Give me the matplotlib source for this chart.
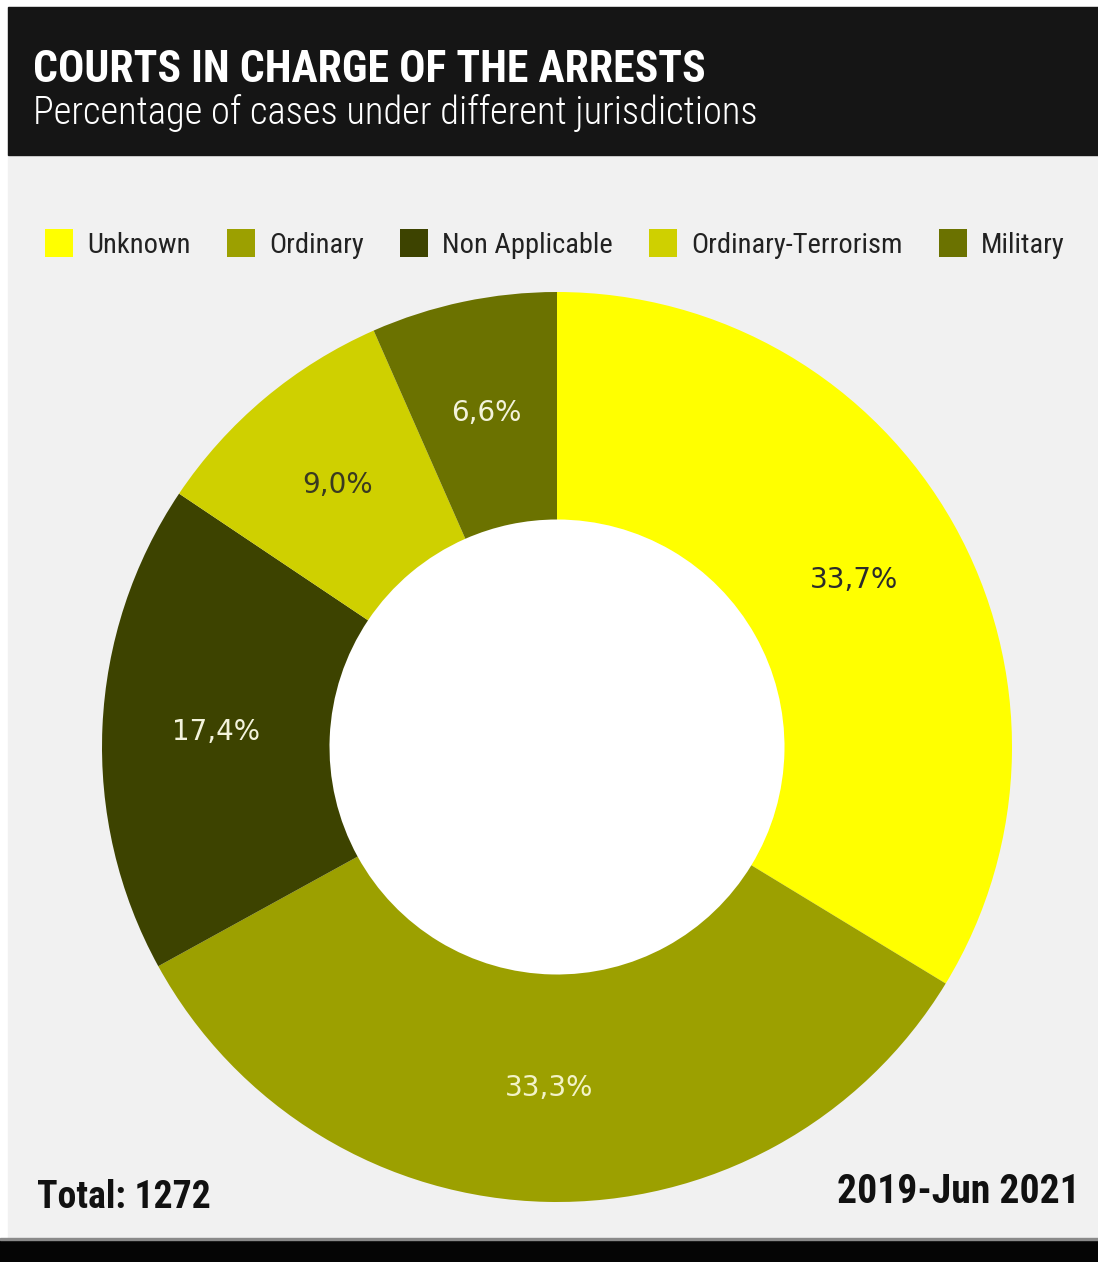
import matplotlib
matplotlib.use("Agg")
import matplotlib.pyplot as plt
from matplotlib import font_manager
from matplotlib.patches import Rectangle, Circle

# === Data ===
categories = ["Unknown", "Ordinary", "Non Applicable", "Ordinary-Terrorism", "Military"]
shares = [33.7, 33.3, 17.4, 9.0, 6.6]
colors = ["#ffff00", "#9ca000", "#3d4300", "#cfd000", "#6b7200"]
label_colors = ["#2b2b2b", "#f3f3c8", "#f3f3dc", "#3a3a20", "#f3f3dc"]

title = "COURTS IN CHARGE OF THE ARRESTS"
subtitle = "Percentage of cases under different jurisdictions"
total_text = "Total: 1272"
period_text = "2019-Jun 2021"

W, H = 1098, 1262
BG = "#f1f1f1"


def pick_font(names):
    for n in names:
        try:
            font_manager.findfont(font_manager.FontProperties(family=n), fallback_to_default=False)
            return n
        except Exception:
            continue
    return "DejaVu Sans"


narrow = pick_font(["Liberation Sans Narrow", "Roboto Condensed", "Open Sans Condensed", "Liberation Sans"])

fig = plt.figure(figsize=(W / 100, H / 100), dpi=100)
fig.patch.set_facecolor("white")

# page background and bands
fig.patches.append(Rectangle((8 / W, 0), 1 - 8 / W, 1 - 7 / H, transform=fig.transFigure,
                             color=BG, zorder=-10))
fig.patches.append(Rectangle((8 / W, 1 - 155 / H), 1 - 8 / W, 148 / H, transform=fig.transFigure,
                             color="#151515", zorder=-5))
fig.patches.append(Rectangle((0, 0), 1, 22 / H, transform=fig.transFigure,
                             color="#050505", zorder=-5))
fig.patches.append(Rectangle((0, 22 / H), 1, 2 / H, transform=fig.transFigure,
                             color="#8a8a8a", zorder=-5))

renderer = fig.canvas.get_renderer()


def fit_text(x, y, s, width_px, size, ha="left", **kw):
    t = fig.text(x / W, 1 - y / H, s, ha=ha, va="baseline", fontsize=size, **kw)
    w = t.get_window_extent(renderer).width
    t.set_fontsize(size * width_px / w)
    return t


fit_text(33, 82, title, 674, 34, color="white", family=narrow, weight="bold")
fit_text(33, 124, subtitle, 727, 24, color="white", family=narrow, weight="light")
fit_text(37, 1208, total_text, 173, 22, color="#111111", family=narrow, weight="bold")
fit_text(1080, 1203, period_text, 242, 22, ha="right", color="#111111", family=narrow, weight="bold")

# === Donut ===
R = 455
cx, cy = 557, 747
ax = fig.add_axes([(cx - R) / W, (H - cy - R) / H, 2 * R / W, 2 * R / H])
ax.set_facecolor("none")

wedges, texts, autotexts = ax.pie(
    shares, colors=colors, startangle=90, counterclock=False, radius=1,
    wedgeprops=dict(width=0.5, linewidth=0),
    autopct=lambda p: f"{p:.1f}".replace(".", ",") + "%", pctdistance=0.75,
    textprops=dict(fontsize=20, family="DejaVu Sans"))
for t, c in zip(autotexts, label_colors):
    t.set_color(c)
ax.add_patch(Circle((0, 0), 0.5, color="white", zorder=0))
ax.set_xlim(-1, 1)
ax.set_ylim(-1, 1)
ax.axis("off")

leg = fig.legend(wedges, categories, loc="center", bbox_to_anchor=(555 / W, 1 - 244 / H),
                 ncol=5, frameon=False, handlelength=1.0, handleheight=1.1,
                 handletextpad=0.5, columnspacing=1.25,
                 prop=dict(family=narrow, size=20.5))
for t in leg.get_texts():
    t.set_color("#222222")

fig.savefig("out.png", dpi=100, facecolor=fig.get_facecolor())
